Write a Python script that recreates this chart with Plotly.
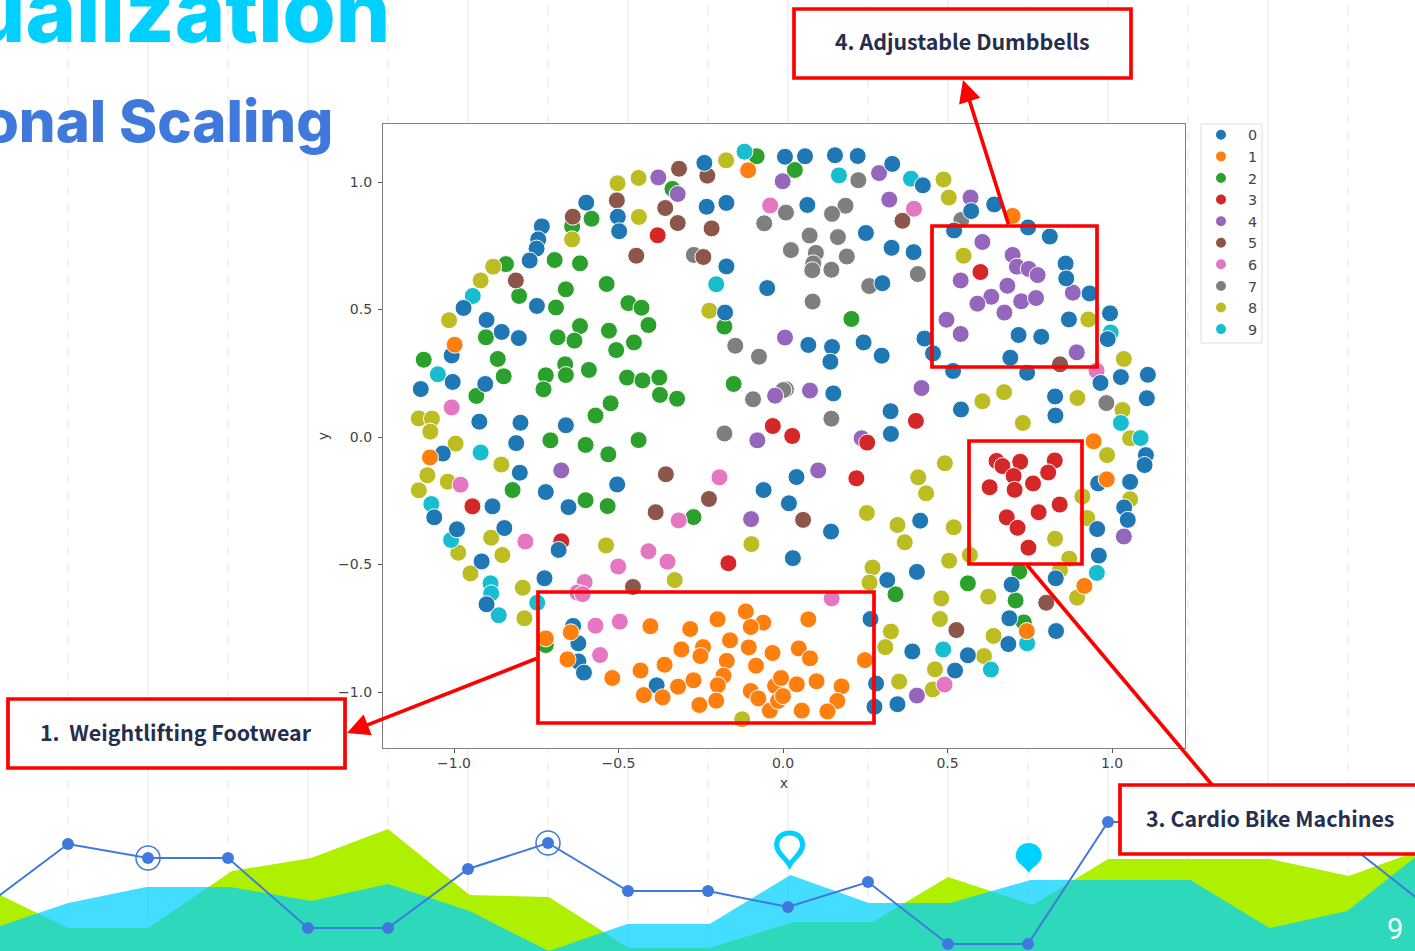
import plotly.graph_objects as go

W, H = 1415, 951

CLASSES = ["0", "1", "2", "3", "4", "5", "6", "7", "8", "9"]
COLORS = ["#1f77b4", "#ff7f0e", "#2ca02c", "#d62728", "#9467bd", "#8c564b", "#e377c2", "#7f7f7f", "#bcbd22", "#17becf"]
DRAW_ORDER = [2, 7, 5, 4, 8, 3, 6, 9, 0, 1]

x0 = [-0.239,-0.598,-0.502,-0.498,-0.232,-0.172,-0.733,-0.744,-0.749,-0.770,-0.172,-0.048,-0.748,-0.971,-0.176,-0.901,-0.855,-0.803,-1.007,-1.101,-1.004,-0.905,-0.923,-0.798,-0.660,
      0.006,0.067,0.158,0.227,0.332,0.425,0.074,0.252,0.330,0.397,0.572,0.642,0.520,0.745,0.811,0.859,0.861,0.932,0.302,0.869,0.994,0.716,0.785,0.987,0.430,0.456,0.245,0.077,0.149,0.144,0.300,0.691,0.517,0.742,1.027,1.109,0.965,0.153,0.827,1.106,0.541,0.828,0.327,0.328,
      -0.811,-1.034,-0.800,-0.504,-0.721,-0.059,-0.883,-0.652,-1.060,-0.991,-0.847,-0.682,-0.916,-0.725,-0.901,-0.638,-0.622,-0.622,-0.605,-0.384,
      0.041,0.018,0.146,0.030,0.417,0.407,0.317,0.958,1.055,1.103,1.099,1.037,1.048,0.955,0.960,0.829,0.695,0.688,0.830,0.685,0.562,0.393,0.523,0.266,0.283,0.278,0.348]
y0 = [1.075,0.919,0.864,0.807,0.903,0.918,0.826,0.775,0.739,0.692,0.669,0.584,0.514,0.506,0.488,0.459,0.412,0.388,0.320,0.188,0.216,0.208,0.060,0.056,0.046,
      1.099,1.101,1.105,1.102,1.071,0.987,0.910,0.800,0.742,0.725,0.886,0.912,0.810,0.822,0.786,0.680,0.622,0.563,0.603,0.461,0.485,0.400,0.393,0.384,0.386,0.328,0.371,0.361,0.353,0.295,0.319,0.311,0.259,0.252,0.235,0.244,0.212,0.171,0.159,0.152,0.108,0.084,0.101,0.012,
      -0.024,-0.065,-0.140,-0.186,-0.216,-0.208,-0.272,-0.275,-0.315,-0.362,-0.357,-0.443,-0.488,-0.554,-0.656,-0.741,-0.809,-0.880,-0.924,-0.974,
      -0.157,-0.260,-0.371,-0.475,-0.328,-0.529,-0.561,-0.182,-0.176,-0.071,-0.110,-0.276,-0.325,-0.361,-0.465,-0.554,-0.579,-0.711,-0.761,-0.812,-0.856,-0.841,-0.916,-0.714,-0.967,-1.058,-1.048]

x1 = [-0.106,-0.998,0.698,-1.073,-0.721,-0.645,-0.655,-0.403,-0.282,-0.199,-0.113,-0.060,-0.098,-0.309,-0.243,-0.251,-0.161,-0.104,-0.032,-0.360,-0.171,-0.082,-0.433,-0.519,-0.181,-0.198,-0.272,-0.319,-0.423,-0.366,-0.203,-0.254,-0.098,-0.075,-0.040,
      0.944,0.984,0.916,0.741,0.077,0.048,0.082,0.249,0.042,0.102,0.178,0.165,0.057,0.135,-0.024,-0.006,-0.015,0.000]
y1 = [1.046,0.362,0.867,-0.080,-0.790,-0.766,-0.872,-0.742,-0.753,-0.715,-0.684,-0.728,-0.745,-0.833,-0.824,-0.859,-0.797,-0.825,-0.847,-0.893,-0.878,-0.897,-0.916,-0.945,-0.936,-0.973,-0.954,-0.979,-1.012,-1.021,-1.034,-1.051,-0.996,-1.025,-1.073,
      -0.017,-0.166,-0.584,-0.761,-0.715,-0.829,-0.868,-0.875,-0.970,-0.958,-0.978,-1.035,-1.073,-1.076,-0.976,-0.945,-1.035,-1.016]

x2 = [-0.080,-0.336,-0.842,-0.641,-0.582,-0.694,-0.617,-0.536,-0.660,-0.802,-0.690,-0.470,-0.430,-0.409,-0.617,-0.529,-0.685,-0.634,-0.903,-0.453,-0.507,-1.092,-0.867,-0.662,-0.660,-0.721,-0.590,-0.849,-0.474,-0.427,-0.376,-0.728,-0.932,-0.374,-0.322,-0.524,-0.570,-0.150,-0.178,
      0.036,0.208,-0.707,-0.600,-0.531,-0.439,-0.822,-0.600,-0.533,-0.272,-0.721,0.718,0.562,0.342,0.707,0.732]
y2 = [1.101,0.973,0.678,0.826,0.856,0.694,0.681,0.600,0.579,0.553,0.508,0.525,0.507,0.439,0.435,0.417,0.391,0.378,0.391,0.371,0.341,0.303,0.306,0.285,0.243,0.242,0.263,0.238,0.233,0.222,0.233,0.187,0.161,0.165,0.150,0.132,0.084,0.208,0.433,
      1.047,0.463,-0.013,-0.031,-0.068,-0.012,-0.208,-0.248,-0.271,-0.314,-0.816,-0.528,-0.574,-0.617,-0.641,-0.727]

x3 = [-0.381,-0.031,0.600,0.404,-0.944,-0.674,-0.166,0.028,0.256,0.223,0.649,0.667,0.721,0.826,0.806,0.701,0.760,0.628,0.704,0.841,0.777,0.680,0.713,0.746]
y3 = [0.791,0.043,0.647,0.063,-0.272,-0.409,-0.495,0.004,-0.022,-0.162,-0.094,-0.114,-0.097,-0.092,-0.139,-0.153,-0.182,-0.197,-0.207,-0.265,-0.295,-0.315,-0.356,-0.434]

x4 = [-0.379,-0.320,-0.001,0.292,0.323,0.570,0.606,0.698,0.711,0.747,0.774,0.540,0.682,0.633,0.591,0.724,0.769,0.673,0.497,0.540,0.881,0.893,0.006,0.082,0.421,-0.024,-0.674,-0.078,-0.097,0.107,0.239,1.036,0.407]
y4 = [1.018,0.953,1.003,1.035,0.931,0.939,0.765,0.714,0.668,0.659,0.635,0.614,0.593,0.550,0.523,0.532,0.545,0.488,0.460,0.404,0.566,0.332,0.390,0.182,0.192,0.162,-0.131,-0.013,-0.322,-0.131,-0.005,-0.390,-1.014]

x5 = [-0.316,-0.230,-0.505,-0.358,-0.639,-0.320,-0.217,-0.446,-0.242,-0.812,0.363,0.842,-0.356,-0.225,-0.387,-0.456,0.061,0.800,0.527]
y5 = [1.052,1.025,0.928,0.898,0.864,0.839,0.818,0.711,0.706,0.614,0.848,0.285,-0.146,-0.243,-0.295,-0.588,-0.325,-0.650,-0.757]

x6 = [-0.039,-1.007,0.398,0.953,-0.980,-0.783,-0.501,-0.409,-0.351,-0.193,-0.317,-0.556,-0.570,-0.496,-0.603,-0.625,-0.609,0.148,0.491]
y6 = [0.908,0.116,0.895,0.260,-0.187,-0.410,-0.508,-0.448,-0.489,-0.158,-0.327,-0.855,-0.740,-0.724,-0.569,-0.610,-0.616,-0.633,-0.971]

x7 = [-0.057,-0.271,-0.145,-0.073,-0.091,-0.178,0.229,0.009,0.190,0.149,0.081,0.167,0.024,0.100,0.194,0.092,0.089,0.147,0.410,0.262,0.090,0.542,0.983,0.009,0.147,0.001]
y7 = [0.838,0.714,0.358,0.315,0.148,0.014,1.007,0.880,0.907,0.875,0.790,0.784,0.733,0.722,0.708,0.681,0.654,0.656,0.639,0.592,0.531,0.851,0.133,0.187,0.072,0.184]

x8 = [-0.173,-0.439,-0.503,-0.641,-0.438,-0.881,-0.919,-1.015,-0.224,-1.107,-1.067,-1.072,0.488,0.504,0.549,0.928,1.036,0.672,0.606,0.895,1.032,0.729,
      -0.995,-0.856,-1.081,-1.019,-1.107,-0.887,-0.987,-0.853,-0.950,-0.538,-0.096,-0.329,-0.791,-0.786,-0.124,
      0.492,0.411,0.435,0.255,0.348,0.370,0.519,0.505,0.568,0.272,0.263,0.481,0.624,0.477,0.328,0.311,0.640,0.611,0.462,0.353,0.455,0.827,0.870,0.842,0.894,0.910,0.925,0.985,1.055,1.055]
y8 = [1.085,1.016,0.995,0.775,0.863,0.668,0.614,0.458,0.495,0.073,0.072,0.021,1.010,0.939,0.711,0.461,0.306,0.176,0.140,0.153,0.106,0.055,
      -0.026,-0.108,-0.150,-0.175,-0.209,-0.395,-0.454,-0.463,-0.535,-0.425,-0.420,-0.561,-0.591,-0.711,-1.107,
      -0.103,-0.158,-0.221,-0.298,-0.345,-0.413,-0.354,-0.485,-0.463,-0.512,-0.571,-0.633,-0.626,-0.714,-0.763,-0.824,-0.780,-0.859,-0.911,-0.959,-0.990,-0.399,-0.477,-0.522,-0.630,-0.233,-0.318,-0.071,-0.244,-0.005]

x9 = [-0.117,-0.943,-0.203,-1.049,0.170,0.389,0.996,1.027,-0.919,-1.069,-1.009,-0.889,-0.887,-0.864,-0.747,1.087,0.954,0.487,0.742,0.632]
y9 = [1.119,0.553,0.599,0.246,1.026,1.013,0.410,0.055,-0.061,-0.263,-0.404,-0.574,-0.613,-0.699,-0.650,-0.004,-0.533,-0.833,-0.809,-0.912]

XS = [x0, x1, x2, x3, x4, x5, x6, x7, x8, x9]
YS = [y0, y1, y2, y3, y4, y5, y6, y7, y8, y9]

# background decoration series (period index, value)
lime_x = [-0.85,0,1,2.05,3.04,4,5.02,6.01,7.01,8.02,9.06,10.06,11,12.06,13,15.02,16.01,16.84]
lime_y = [5.6,2.3,2.3,8.0,9.3,12.2,5.6,5.4,0.3,0.3,2.9,2.9,7.4,4.6,9.2,9.2,7.5,9.9]
aqua_x = [-0.85,0,0.98,2.03,3.04,4,5.02,6.01,6.99,8.02,9.03,10.01,11.03,12.03,14.03,15.02,15.99,16.84]
aqua_y = [2.5,4.8,6.4,6.4,5.0,6.7,4.0,0.0,2.7,2.7,7.6,4.8,4.8,7.1,7.1,2.3,4.0,9.4]
line_x = [-1,0,1,2,3,4,5,6,7,8,9,10,11,12,13,14,15,16,17]
line_y = [4.7,10.7,9.3,9.3,2.3,2.3,8.2,10.8,6.0,6.0,4.4,6.9,0.7,0.7,12.9,12.9,12.0,10.7,4.4]
ring_x = [1, 6]
ring_y = [9.3, 10.8]
grid_idx = list(range(0, 17))

BLUE = "#3f79dc"
AQUA = "#00d0ff"
RED = "#ff0000"
INK = "#262e4d"
TICK = "#444444"


def px(v):
    return v / W


def py(v):
    return 1 - v / H


fig = go.Figure()

# background subplot (first, so it is drawn underneath)
fig.add_trace(go.Scatter(x=lime_x, y=lime_y, mode="lines", line=dict(width=0), fill="tozeroy",
                         fillcolor="#aef000", showlegend=False, hoverinfo="skip", xaxis="x", yaxis="y"))
fig.add_trace(go.Scatter(x=aqua_x, y=aqua_y, mode="lines", line=dict(width=0), fill="tozeroy",
                         fillcolor="rgba(0,208,255,0.733)", showlegend=False, hoverinfo="skip", xaxis="x", yaxis="y"))
fig.add_trace(go.Scatter(x=line_x, y=line_y, mode="lines+markers", line=dict(color=BLUE, width=2),
                         marker=dict(color=BLUE, size=12), showlegend=False, hoverinfo="skip", xaxis="x", yaxis="y"))
fig.add_trace(go.Scatter(x=ring_x, y=ring_y, mode="markers",
                         marker=dict(symbol="circle-open", color=BLUE, size=24, line=dict(width=1.5, color=BLUE)),
                         showlegend=False, hoverinfo="skip", xaxis="x", yaxis="y"))

# the scatter itself
for k in DRAW_ORDER:
    fig.add_trace(go.Scatter(x=XS[k], y=YS[k], mode="markers", name=CLASSES[k], xaxis="x2", yaxis="y2", legendrank=k + 1,
                             marker=dict(color=COLORS[k], size=17, line=dict(color="white", width=1))))

shapes = []
for i in grid_idx:
    shapes.append(dict(type="line", xref="x", yref="paper", x0=i, x1=i, y0=0, y1=1, layer="below",
                       line=dict(color="#f0f0f0", width=1.6, dash="solid" if i % 2 else "dash")))

# map pins
shapes.append(dict(type="path", xref="x", yref="y", xsizemode="pixel", ysizemode="pixel", xanchor=9.02, yanchor=8.6,
                   path="M0,0 C-4,7 -13,12 -13,20 C-13,27 -8,32 0,32 C8,32 13,27 13,20 C13,12 4,7 0,0 Z",
                   fillcolor="white", line=dict(color=AQUA, width=5), layer="above"))
shapes.append(dict(type="path", xref="x", yref="y", xsizemode="pixel", ysizemode="pixel", xanchor=12.01, yanchor=7.8,
                   path="M0,0 C-3,6 -13,10 -13,17 C-13,25 -7,30 0,30 C7,30 13,25 13,17 C13,10 3,6 0,0 Z",
                   fillcolor=AQUA, line=dict(width=0), layer="above"))


def rect(x0_, y0_, x1_, y1_, fill=None, width=3.7, color=RED):
    return dict(type="rect", xref="paper", yref="paper", x0=px(x0_), x1=px(x1_), y0=py(y1_), y1=py(y0_),
                fillcolor=fill if fill else "rgba(0,0,0,0)", line=dict(color=color, width=width), layer="above")


shapes += [rect(932, 226, 1097, 367), rect(969, 441, 1082, 564), rect(538, 592, 874, 723)]
shapes.append(dict(type="line", xref="paper", yref="paper", x0=px(1027), x1=px(1213), y0=py(565), y1=py(786),
                   line=dict(color=RED, width=3.7), layer="above"))
shapes += [rect(794, 9, 1131, 78, "white"), rect(8, 699, 345, 768, "white"), rect(1120, 785, 1425, 854, "white")]
shapes.append(rect(1201, 124, 1262, 343, "white", width=1, color="#dddddd"))

annotations = []


def label(text, cx, cy, size, color, family, anchor="center", bold=True, weight=None):
    font = dict(size=size, color=color, family=family)
    if weight:
        font["weight"] = weight
    annotations.append(dict(text=f"<b>{text}</b>" if bold else text, xref="paper", yref="paper", x=px(cx), y=py(cy),
                            xanchor=anchor, yanchor="middle", showarrow=False, font=font))


def arrow(tx, ty, sx, sy):
    annotations.append(dict(text="", xref="paper", yref="paper", x=px(tx), y=py(ty), ax=sx - tx, ay=sy - ty,
                            axref="pixel", ayref="pixel", showarrow=True, arrowhead=2, arrowsize=1.2, arrowwidth=3.7,
                            arrowcolor=RED, standoff=0))


arrow(963, 80, 1009, 226)
arrow(347, 733, 538, 658)

label("4. Adjustable Dumbbells", 962, 41, 21.4, INK, "Noto Sans CJK SC")
label("1.  Weightlifting Footwear", 176, 731, 21.4, INK, "Noto Sans CJK SC")
label("3. Cardio Bike Machines", 1270, 817, 21.4, INK, "Noto Sans CJK SC")
label("Visualization", 392, 11, 86, AQUA, "Inter", anchor="right", bold=False, weight=800)
label("Multidimensional Scaling", 335, 121, 58, BLUE, "Inter", anchor="right", bold=False, weight=800)
label("9", 1395, 929, 29, "white", "Roboto", bold=False)

axis_font = dict(family="DejaVu Sans", size=14, color=TICK)
fig.update_layout(
    width=W, height=H, margin=dict(l=0, r=0, t=0, b=0),
    paper_bgcolor="white", plot_bgcolor="white",
    xaxis=dict(domain=[0, 1], range=[-0.85, 16.8375], visible=False, fixedrange=True),
    yaxis=dict(domain=[0, 1], range=[0, 95.1], visible=False, fixedrange=True),
    xaxis2=dict(domain=[px(383), px(1185)], range=[-1.2158, 1.2219], anchor="y2",
                tickvals=[-1, -0.5, 0, 0.5, 1], ticktext=["\u22121.0", "\u22120.5", "0.0", "0.5", "1.0"],
                ticks="outside", ticklen=4, tickcolor="#555", tickfont=axis_font, showgrid=False, zeroline=False,
                showline=True, mirror=True, linecolor="#7f7f7f", linewidth=1.3, ticklabelstandoff=-2,
                title=dict(text="x", font=dict(family="DejaVu Sans", size=14, color=TICK), standoff=8)),
    yaxis2=dict(domain=[py(748), py(124)], range=[-1.2196, 1.2275], anchor="x2",
                tickvals=[-1, -0.5, 0, 0.5, 1], ticktext=["\u22121.0", "\u22120.5", "0.0", "0.5", "1.0"],
                ticks="outside", ticklen=4, tickcolor="#555", tickfont=axis_font, showgrid=False, zeroline=False,
                showline=True, mirror=True, linecolor="#7f7f7f", linewidth=1.3, ticklabelstandoff=3,
                title=dict(text="y", font=dict(family="DejaVu Sans", size=14, color=TICK), standoff=6)),
    legend=dict(x=px(1194), y=py(119), xanchor="left", yanchor="top", bgcolor="rgba(0,0,0,0)", borderwidth=0,
                font=dict(family="DejaVu Sans", size=14.3, color=TICK), itemwidth=44, itemsizing="constant"),
    shapes=shapes, annotations=annotations,
)

fig.write_html("out.html", config=dict(displayModeBar=False), post_script="document.body.style.margin='0';")
